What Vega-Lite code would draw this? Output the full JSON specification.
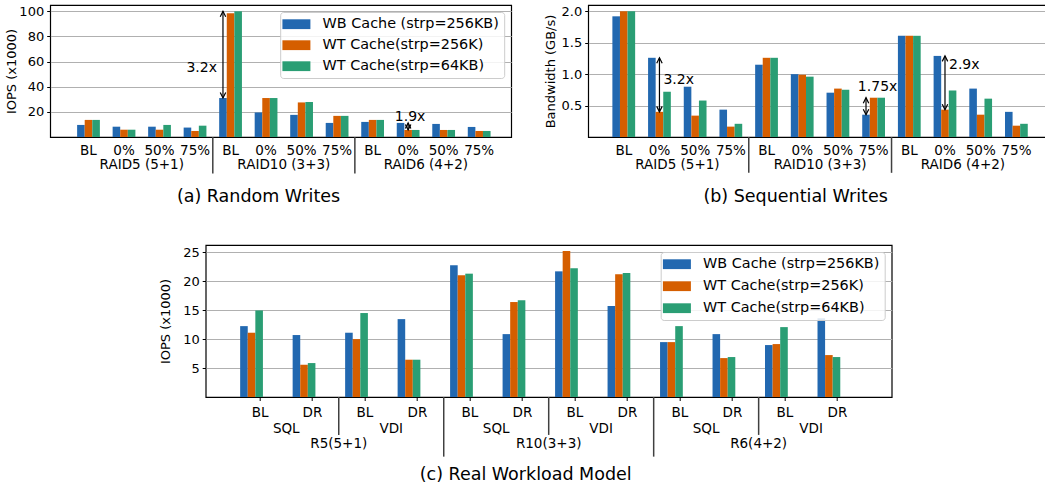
{
  "$schema": "https://vega.github.io/schema/vega-lite/v6.json",
  "background": "white",
  "padding": {"left": 5, "top": 4, "right": 2, "bottom": 2},
  "config": {
    "view": {"stroke": "black", "strokeWidth": 1.2},
    "font": "DejaVu Sans",
    "axis": {"labelFont": "DejaVu Sans", "labelFontSize": 13, "labelColor": "black", "titleFont": "DejaVu Sans", "titleFontSize": 13, "titleFontWeight": "normal", "titleColor": "black", "tickColor": "black", "domain": false, "labelOverlap": false},
    "axisY": {"grid": true, "gridColor": "#b0b0b0", "gridWidth": 1.2, "tickSize": 3.5, "tickWidth": 1, "labelPadding": 3},
    "axisX": {"grid": false, "ticks": false, "labelPadding": 6, "labelAngle": 0, "labelFontSize": 13.5},
    "legend": {"orient": "top-right", "offset": 7, "fillColor": "rgba(255,255,255,0.85)", "strokeColor": "#cccccc", "cornerRadius": 3, "padding": 5, "labelFont": "DejaVu Sans", "labelFontSize": 14.4, "labelColor": "black", "labelLimit": 400, "symbolType": "M-2,-0.7H2V0.7H-2Z", "symbolSize": 196, "symbolStrokeWidth": 0, "symbolOpacity": 1, "rowPadding": 6, "labelOffset": 19, "symbolOffset": 4},
    "title": {"font": "DejaVu Sans", "fontSize": 17.5, "fontWeight": "normal", "color": "black"}
  },
  "datasets": {
    "a": [
      {"k": "RAID5 (5+1)|BL", "s": "WB Cache (strp=256KB)", "v": 9.6},
      {"k": "RAID5 (5+1)|BL", "s": "WT Cache(strp=256K)", "v": 13.6},
      {"k": "RAID5 (5+1)|BL", "s": "WT Cache(strp=64KB)", "v": 13.6},
      {"k": "RAID5 (5+1)|0%", "s": "WB Cache (strp=256KB)", "v": 8.2},
      {"k": "RAID5 (5+1)|0%", "s": "WT Cache(strp=256K)", "v": 5.8},
      {"k": "RAID5 (5+1)|0%", "s": "WT Cache(strp=64KB)", "v": 5.8},
      {"k": "RAID5 (5+1)|50%", "s": "WB Cache (strp=256KB)", "v": 8.2},
      {"k": "RAID5 (5+1)|50%", "s": "WT Cache(strp=256K)", "v": 5.8},
      {"k": "RAID5 (5+1)|50%", "s": "WT Cache(strp=64KB)", "v": 9.6},
      {"k": "RAID5 (5+1)|75%", "s": "WB Cache (strp=256KB)", "v": 7.5},
      {"k": "RAID5 (5+1)|75%", "s": "WT Cache(strp=256K)", "v": 4.8},
      {"k": "RAID5 (5+1)|75%", "s": "WT Cache(strp=64KB)", "v": 9.0},
      {"k": "RAID10 (3+3)|BL", "s": "WB Cache (strp=256KB)", "v": 31},
      {"k": "RAID10 (3+3)|BL", "s": "WT Cache(strp=256K)", "v": 98.5},
      {"k": "RAID10 (3+3)|BL", "s": "WT Cache(strp=64KB)", "v": 100},
      {"k": "RAID10 (3+3)|0%", "s": "WB Cache (strp=256KB)", "v": 19.5},
      {"k": "RAID10 (3+3)|0%", "s": "WT Cache(strp=256K)", "v": 31},
      {"k": "RAID10 (3+3)|0%", "s": "WT Cache(strp=64KB)", "v": 31},
      {"k": "RAID10 (3+3)|50%", "s": "WB Cache (strp=256KB)", "v": 17.6},
      {"k": "RAID10 (3+3)|50%", "s": "WT Cache(strp=256K)", "v": 27.5},
      {"k": "RAID10 (3+3)|50%", "s": "WT Cache(strp=64KB)", "v": 27.9},
      {"k": "RAID10 (3+3)|75%", "s": "WB Cache (strp=256KB)", "v": 11.2},
      {"k": "RAID10 (3+3)|75%", "s": "WT Cache(strp=256K)", "v": 16.8},
      {"k": "RAID10 (3+3)|75%", "s": "WT Cache(strp=64KB)", "v": 16.8},
      {"k": "RAID6 (4+2)|BL", "s": "WB Cache (strp=256KB)", "v": 12},
      {"k": "RAID6 (4+2)|BL", "s": "WT Cache(strp=256K)", "v": 13.6},
      {"k": "RAID6 (4+2)|BL", "s": "WT Cache(strp=64KB)", "v": 13.6},
      {"k": "RAID6 (4+2)|0%", "s": "WB Cache (strp=256KB)", "v": 11.2},
      {"k": "RAID6 (4+2)|0%", "s": "WT Cache(strp=256K)", "v": 5.6},
      {"k": "RAID6 (4+2)|0%", "s": "WT Cache(strp=64KB)", "v": 5.6},
      {"k": "RAID6 (4+2)|50%", "s": "WB Cache (strp=256KB)", "v": 10.4},
      {"k": "RAID6 (4+2)|50%", "s": "WT Cache(strp=256K)", "v": 5.6},
      {"k": "RAID6 (4+2)|50%", "s": "WT Cache(strp=64KB)", "v": 5.6},
      {"k": "RAID6 (4+2)|75%", "s": "WB Cache (strp=256KB)", "v": 8.0},
      {"k": "RAID6 (4+2)|75%", "s": "WT Cache(strp=256K)", "v": 4.8},
      {"k": "RAID6 (4+2)|75%", "s": "WT Cache(strp=64KB)", "v": 4.8}
    ],
    "b": [
      {"k": "RAID5 (5+1)|BL", "s": "WB Cache (strp=256KB)", "v": 1.92},
      {"k": "RAID5 (5+1)|BL", "s": "WT Cache(strp=256K)", "v": 2.0},
      {"k": "RAID5 (5+1)|BL", "s": "WT Cache(strp=64KB)", "v": 2.0},
      {"k": "RAID5 (5+1)|0%", "s": "WB Cache (strp=256KB)", "v": 1.26},
      {"k": "RAID5 (5+1)|0%", "s": "WT Cache(strp=256K)", "v": 0.40},
      {"k": "RAID5 (5+1)|0%", "s": "WT Cache(strp=64KB)", "v": 0.72},
      {"k": "RAID5 (5+1)|50%", "s": "WB Cache (strp=256KB)", "v": 0.80},
      {"k": "RAID5 (5+1)|50%", "s": "WT Cache(strp=256K)", "v": 0.34},
      {"k": "RAID5 (5+1)|50%", "s": "WT Cache(strp=64KB)", "v": 0.58},
      {"k": "RAID5 (5+1)|75%", "s": "WB Cache (strp=256KB)", "v": 0.435},
      {"k": "RAID5 (5+1)|75%", "s": "WT Cache(strp=256K)", "v": 0.165},
      {"k": "RAID5 (5+1)|75%", "s": "WT Cache(strp=64KB)", "v": 0.21},
      {"k": "RAID10 (3+3)|BL", "s": "WB Cache (strp=256KB)", "v": 1.15},
      {"k": "RAID10 (3+3)|BL", "s": "WT Cache(strp=256K)", "v": 1.26},
      {"k": "RAID10 (3+3)|BL", "s": "WT Cache(strp=64KB)", "v": 1.26},
      {"k": "RAID10 (3+3)|0%", "s": "WB Cache (strp=256KB)", "v": 1.0},
      {"k": "RAID10 (3+3)|0%", "s": "WT Cache(strp=256K)", "v": 0.99},
      {"k": "RAID10 (3+3)|0%", "s": "WT Cache(strp=64KB)", "v": 0.96},
      {"k": "RAID10 (3+3)|50%", "s": "WB Cache (strp=256KB)", "v": 0.705},
      {"k": "RAID10 (3+3)|50%", "s": "WT Cache(strp=256K)", "v": 0.77},
      {"k": "RAID10 (3+3)|50%", "s": "WT Cache(strp=64KB)", "v": 0.75},
      {"k": "RAID10 (3+3)|75%", "s": "WB Cache (strp=256KB)", "v": 0.355},
      {"k": "RAID10 (3+3)|75%", "s": "WT Cache(strp=256K)", "v": 0.625},
      {"k": "RAID10 (3+3)|75%", "s": "WT Cache(strp=64KB)", "v": 0.625},
      {"k": "RAID6 (4+2)|BL", "s": "WB Cache (strp=256KB)", "v": 1.61},
      {"k": "RAID6 (4+2)|BL", "s": "WT Cache(strp=256K)", "v": 1.61},
      {"k": "RAID6 (4+2)|BL", "s": "WT Cache(strp=64KB)", "v": 1.61},
      {"k": "RAID6 (4+2)|0%", "s": "WB Cache (strp=256KB)", "v": 1.29},
      {"k": "RAID6 (4+2)|0%", "s": "WT Cache(strp=256K)", "v": 0.435},
      {"k": "RAID6 (4+2)|0%", "s": "WT Cache(strp=64KB)", "v": 0.74},
      {"k": "RAID6 (4+2)|50%", "s": "WB Cache (strp=256KB)", "v": 0.77},
      {"k": "RAID6 (4+2)|50%", "s": "WT Cache(strp=256K)", "v": 0.355},
      {"k": "RAID6 (4+2)|50%", "s": "WT Cache(strp=64KB)", "v": 0.61},
      {"k": "RAID6 (4+2)|75%", "s": "WB Cache (strp=256KB)", "v": 0.40},
      {"k": "RAID6 (4+2)|75%", "s": "WT Cache(strp=256K)", "v": 0.18},
      {"k": "RAID6 (4+2)|75%", "s": "WT Cache(strp=64KB)", "v": 0.21}
    ],
    "c": [
      {"k": "R5(5+1)|SQL|BL", "s": "WB Cache (strp=256KB)", "v": 12.24},
      {"k": "R5(5+1)|SQL|BL", "s": "WT Cache(strp=256K)", "v": 11.1},
      {"k": "R5(5+1)|SQL|BL", "s": "WT Cache(strp=64KB)", "v": 14.95},
      {"k": "R5(5+1)|SQL|DR", "s": "WB Cache (strp=256KB)", "v": 10.7},
      {"k": "R5(5+1)|SQL|DR", "s": "WT Cache(strp=256K)", "v": 5.57},
      {"k": "R5(5+1)|SQL|DR", "s": "WT Cache(strp=64KB)", "v": 5.86},
      {"k": "R5(5+1)|VDI|BL", "s": "WB Cache (strp=256KB)", "v": 11.1},
      {"k": "R5(5+1)|VDI|BL", "s": "WT Cache(strp=256K)", "v": 10.0},
      {"k": "R5(5+1)|VDI|BL", "s": "WT Cache(strp=64KB)", "v": 14.5},
      {"k": "R5(5+1)|VDI|DR", "s": "WB Cache (strp=256KB)", "v": 13.45},
      {"k": "R5(5+1)|VDI|DR", "s": "WT Cache(strp=256K)", "v": 6.44},
      {"k": "R5(5+1)|VDI|DR", "s": "WT Cache(strp=64KB)", "v": 6.44},
      {"k": "R10(3+3)|SQL|BL", "s": "WB Cache (strp=256KB)", "v": 22.76},
      {"k": "R10(3+3)|SQL|BL", "s": "WT Cache(strp=256K)", "v": 21.03},
      {"k": "R10(3+3)|SQL|BL", "s": "WT Cache(strp=64KB)", "v": 21.3},
      {"k": "R10(3+3)|SQL|DR", "s": "WB Cache (strp=256KB)", "v": 10.86},
      {"k": "R10(3+3)|SQL|DR", "s": "WT Cache(strp=256K)", "v": 16.4},
      {"k": "R10(3+3)|SQL|DR", "s": "WT Cache(strp=64KB)", "v": 16.7},
      {"k": "R10(3+3)|VDI|BL", "s": "WB Cache (strp=256KB)", "v": 21.7},
      {"k": "R10(3+3)|VDI|BL", "s": "WT Cache(strp=256K)", "v": 25.2},
      {"k": "R10(3+3)|VDI|BL", "s": "WT Cache(strp=64KB)", "v": 22.24},
      {"k": "R10(3+3)|VDI|DR", "s": "WB Cache (strp=256KB)", "v": 15.7},
      {"k": "R10(3+3)|VDI|DR", "s": "WT Cache(strp=256K)", "v": 21.2},
      {"k": "R10(3+3)|VDI|DR", "s": "WT Cache(strp=64KB)", "v": 21.4},
      {"k": "R6(4+2)|SQL|BL", "s": "WB Cache (strp=256KB)", "v": 9.48},
      {"k": "R6(4+2)|SQL|BL", "s": "WT Cache(strp=256K)", "v": 9.48},
      {"k": "R6(4+2)|SQL|BL", "s": "WT Cache(strp=64KB)", "v": 12.24},
      {"k": "R6(4+2)|SQL|DR", "s": "WB Cache (strp=256KB)", "v": 10.86},
      {"k": "R6(4+2)|SQL|DR", "s": "WT Cache(strp=256K)", "v": 6.72},
      {"k": "R6(4+2)|SQL|DR", "s": "WT Cache(strp=64KB)", "v": 6.9},
      {"k": "R6(4+2)|VDI|BL", "s": "WB Cache (strp=256KB)", "v": 8.97},
      {"k": "R6(4+2)|VDI|BL", "s": "WT Cache(strp=256K)", "v": 9.14},
      {"k": "R6(4+2)|VDI|BL", "s": "WT Cache(strp=64KB)", "v": 12.07},
      {"k": "R6(4+2)|VDI|DR", "s": "WB Cache (strp=256KB)", "v": 13.6},
      {"k": "R6(4+2)|VDI|DR", "s": "WT Cache(strp=256K)", "v": 7.24},
      {"k": "R6(4+2)|VDI|DR", "s": "WT Cache(strp=64KB)", "v": 6.9}
    ]
  },
  "vconcat": [
    {
      "hconcat": [
        {
          "width": 461, "height": 132,
          "title": {"text": "(a) Random Writes", "orient": "bottom", "frame": "bounds", "anchor": "middle", "offset": 14},
          "layer": [
            {
              "data": {"name": "a"},
              "mark": {"type": "bar"},
              "encoding": {
                "x": {"field": "k", "type": "nominal", "scale": {"domain": ["RAID5 (5+1)|BL", "RAID5 (5+1)|0%", "RAID5 (5+1)|50%", "RAID5 (5+1)|75%", "RAID10 (3+3)|BL", "RAID10 (3+3)|0%", "RAID10 (3+3)|50%", "RAID10 (3+3)|75%", "RAID6 (4+2)|BL", "RAID6 (4+2)|0%", "RAID6 (4+2)|50%", "RAID6 (4+2)|75%"], "paddingInner": 0, "paddingOuter": 0.49, "align": 0.59}, "axis": {"title": null, "labelExpr": "split(datum.value, '|')[1]"}},
                "xOffset": {"field": "s", "type": "nominal", "scale": {"domain": ["WB Cache (strp=256KB)", "WT Cache(strp=256K)", "WT Cache(strp=64KB)"], "paddingInner": 0, "paddingOuter": 0.84}},
                "y": {"field": "v", "type": "quantitative", "scale": {"domain": [0, 105], "nice": false}, "axis": {"values": [20, 40, 60, 80, 100], "labelOverlap": false, "tickCount": 5, "title": "IOPS (x1000)", "titlePadding": 0}},
                "color": {"field": "s", "type": "nominal", "scale": {"domain": ["WB Cache (strp=256KB)", "WT Cache(strp=256K)", "WT Cache(strp=64KB)"], "range": ["#2268b0", "#d55e00", "#2a9e74"]}, "legend": {"title": null}}
              }
            },
            {
              "data": {"values": [{"k": "RAID5 (5+1)|50%", "g": "RAID5 (5+1)"}, {"k": "RAID10 (3+3)|50%", "g": "RAID10 (3+3)"}, {"k": "RAID6 (4+2)|50%", "g": "RAID6 (4+2)"}]},
              "mark": {"type": "text", "baseline": "middle", "align": "center", "fontSize": 13.5, "font": "DejaVu Sans", "color": "black"},
              "encoding": {"x": {"field": "k", "type": "nominal", "bandPosition": 0, "axis": {"title": null}}, "y": {"datum": -22.4}, "text": {"field": "g"}}
            },
            {
              "data": {"values": [{"k": "RAID10 (3+3)|BL"}, {"k": "RAID6 (4+2)|BL"}]},
              "mark": {"type": "rule", "color": "#404040", "strokeWidth": 1.5},
              "encoding": {"x": {"field": "k", "type": "nominal", "bandPosition": 0, "axis": {"title": null}}, "y": {"datum": 0}, "y2": {"datum": -29}}
            },
            {
              "data": {"values": [{"k": "RAID10 (3+3)|BL", "s": "WB Cache (strp=256KB)", "hi": 100, "lo": 31}, {"k": "RAID6 (4+2)|0%", "s": "WT Cache(strp=256K)", "hi": 11.2, "lo": 5.6}]},
              "encoding": {"x": {"field": "k", "type": "nominal", "axis": {"title": null}}, "xOffset": {"field": "s", "type": "nominal"}},
              "layer": [
                {"mark": {"type": "rule", "color": "black", "strokeWidth": 1.2}, "encoding": {"y": {"field": "hi", "type": "quantitative"}, "y2": {"field": "lo"}}},
                {"mark": {"type": "point", "shape": "M-1,2L0,0L1,2", "size": 30, "filled": false, "stroke": "black", "strokeWidth": 1.2, "opacity": 1}, "encoding": {"y": {"field": "hi", "type": "quantitative"}}},
                {"mark": {"type": "point", "shape": "M-1,-2L0,0L1,-2", "size": 30, "filled": false, "stroke": "black", "strokeWidth": 1.2, "opacity": 1}, "encoding": {"y": {"field": "lo", "type": "quantitative"}}}
              ]
            },
            {
              "data": {"values": [{"k": "RAID10 (3+3)|BL", "s": "WB Cache (strp=256KB)", "y": 55, "t": "3.2x"}]},
              "mark": {"type": "text", "align": "right", "baseline": "middle", "dx": -6, "fontSize": 14, "font": "DejaVu Sans", "color": "black"},
              "encoding": {"x": {"field": "k", "type": "nominal", "axis": {"title": null}}, "xOffset": {"field": "s", "type": "nominal"}, "y": {"field": "y", "type": "quantitative"}, "text": {"field": "t"}}
            },
            {
              "data": {"values": [{"k": "RAID6 (4+2)|0%", "s": "WT Cache(strp=256K)", "y": 16, "t": "1.9x"}]},
              "mark": {"type": "text", "align": "center", "baseline": "middle", "dx": 2, "fontSize": 14, "font": "DejaVu Sans", "color": "black"},
              "encoding": {"x": {"field": "k", "type": "nominal", "axis": {"title": null}}, "xOffset": {"field": "s", "type": "nominal"}, "y": {"field": "y", "type": "quantitative"}, "text": {"field": "t"}}
            }
          ]
        },
        {
          "width": 459, "height": 132,
          "title": {"text": "(b) Sequential Writes", "orient": "bottom", "frame": "bounds", "anchor": "middle", "offset": 14},
          "layer": [
            {
              "data": {"name": "b"},
              "mark": {"type": "bar"},
              "encoding": {
                "x": {"field": "k", "type": "nominal", "scale": {"domain": ["RAID5 (5+1)|BL", "RAID5 (5+1)|0%", "RAID5 (5+1)|50%", "RAID5 (5+1)|75%", "RAID10 (3+3)|BL", "RAID10 (3+3)|0%", "RAID10 (3+3)|50%", "RAID10 (3+3)|75%", "RAID6 (4+2)|BL", "RAID6 (4+2)|0%", "RAID6 (4+2)|50%", "RAID6 (4+2)|75%"], "paddingInner": 0, "paddingOuter": 0.43, "align": 0.58}, "axis": {"title": null, "labelExpr": "split(datum.value, '|')[1]"}},
                "xOffset": {"field": "s", "type": "nominal", "scale": {"domain": ["WB Cache (strp=256KB)", "WT Cache(strp=256K)", "WT Cache(strp=64KB)"], "paddingInner": 0, "paddingOuter": 0.84}},
                "y": {"field": "v", "type": "quantitative", "scale": {"domain": [0, 2.1], "nice": false}, "axis": {"values": [0.5, 1.0, 1.5, 2.0], "labelOverlap": false, "tickCount": 4, "format": ".1f", "title": "Bandwidth (GB/s)", "titlePadding": 4}},
                "color": {"field": "s", "type": "nominal", "scale": {"domain": ["WB Cache (strp=256KB)", "WT Cache(strp=256K)", "WT Cache(strp=64KB)"], "range": ["#2268b0", "#d55e00", "#2a9e74"]}, "legend": null}
              }
            },
            {
              "data": {"values": [{"k": "RAID5 (5+1)|50%", "g": "RAID5 (5+1)"}, {"k": "RAID10 (3+3)|50%", "g": "RAID10 (3+3)"}, {"k": "RAID6 (4+2)|50%", "g": "RAID6 (4+2)"}]},
              "mark": {"type": "text", "baseline": "middle", "align": "center", "fontSize": 13.5, "font": "DejaVu Sans", "color": "black"},
              "encoding": {"x": {"field": "k", "type": "nominal", "bandPosition": 0, "axis": {"title": null}}, "y": {"datum": -0.445}, "text": {"field": "g"}}
            },
            {
              "data": {"values": [{"k": "RAID10 (3+3)|BL"}, {"k": "RAID6 (4+2)|BL"}]},
              "mark": {"type": "rule", "color": "#404040", "strokeWidth": 1.5},
              "encoding": {"x": {"field": "k", "type": "nominal", "bandPosition": 0, "axis": {"title": null}}, "y": {"datum": 0}, "y2": {"datum": -0.57}}
            },
            {
              "data": {"values": [{"k": "RAID5 (5+1)|0%", "s": "WT Cache(strp=256K)", "hi": 1.26, "lo": 0.40}, {"k": "RAID10 (3+3)|75%", "s": "WB Cache (strp=256KB)", "hi": 0.625, "lo": 0.355}, {"k": "RAID6 (4+2)|0%", "s": "WT Cache(strp=256K)", "hi": 1.29, "lo": 0.435}]},
              "encoding": {"x": {"field": "k", "type": "nominal", "axis": {"title": null}}, "xOffset": {"field": "s", "type": "nominal"}},
              "layer": [
                {"mark": {"type": "rule", "color": "black", "strokeWidth": 1.2}, "encoding": {"y": {"field": "hi", "type": "quantitative"}, "y2": {"field": "lo"}}},
                {"mark": {"type": "point", "shape": "M-1,2L0,0L1,2", "size": 30, "filled": false, "stroke": "black", "strokeWidth": 1.2, "opacity": 1}, "encoding": {"y": {"field": "hi", "type": "quantitative"}}},
                {"mark": {"type": "point", "shape": "M-1,-2L0,0L1,-2", "size": 30, "filled": false, "stroke": "black", "strokeWidth": 1.2, "opacity": 1}, "encoding": {"y": {"field": "lo", "type": "quantitative"}}}
              ]
            },
            {
              "data": {"values": [{"k": "RAID5 (5+1)|0%", "s": "WT Cache(strp=256K)", "y": 0.91, "t": "3.2x"}, {"k": "RAID6 (4+2)|0%", "s": "WT Cache(strp=256K)", "y": 1.15, "t": "2.9x"}]},
              "mark": {"type": "text", "align": "left", "baseline": "middle", "dx": 4, "fontSize": 14, "font": "DejaVu Sans", "color": "black"},
              "encoding": {"x": {"field": "k", "type": "nominal", "axis": {"title": null}}, "xOffset": {"field": "s", "type": "nominal"}, "y": {"field": "y", "type": "quantitative"}, "text": {"field": "t"}}
            },
            {
              "data": {"values": [{"k": "RAID10 (3+3)|75%", "s": "WT Cache(strp=256K)", "y": 0.79, "t": "1.75x"}]},
              "mark": {"type": "text", "align": "center", "baseline": "middle", "dx": 4, "fontSize": 14, "font": "DejaVu Sans", "color": "black"},
              "encoding": {"x": {"field": "k", "type": "nominal", "axis": {"title": null}}, "xOffset": {"field": "s", "type": "nominal"}, "y": {"field": "y", "type": "quantitative"}, "text": {"field": "t"}}
            }
          ]
        }
      ],
      "spacing": 31,
      "resolve": {"scale": {"color": "independent"}, "legend": {"color": "independent"}}
    },
    {
      "width": 686, "height": 152,
      "title": {"text": "(c) Real Workload Model", "orient": "bottom", "frame": "bounds", "anchor": "middle", "offset": 9},
      "layer": [
        {
          "data": {"name": "c"},
          "mark": {"type": "bar"},
          "encoding": {
            "x": {"field": "k", "type": "nominal", "scale": {"domain": ["R5(5+1)|SQL|BL", "R5(5+1)|SQL|DR", "R5(5+1)|VDI|BL", "R5(5+1)|VDI|DR", "R10(3+3)|SQL|BL", "R10(3+3)|SQL|DR", "R10(3+3)|VDI|BL", "R10(3+3)|VDI|DR", "R6(4+2)|SQL|BL", "R6(4+2)|SQL|DR", "R6(4+2)|VDI|BL", "R6(4+2)|VDI|DR"], "paddingInner": 0, "paddingOuter": 0.535, "align": 0.5}, "axis": {"title": null, "labelExpr": "split(datum.value, '|')[2]", "ticks": true, "tickSize": 3.5, "labelPadding": 5}},
            "xOffset": {"field": "s", "type": "nominal", "scale": {"domain": ["WB Cache (strp=256KB)", "WT Cache(strp=256K)", "WT Cache(strp=64KB)"], "paddingInner": 0, "paddingOuter": 0.94}},
            "y": {"field": "v", "type": "quantitative", "scale": {"domain": [0, 26.25], "nice": false}, "axis": {"values": [5, 10, 15, 20, 25], "labelOverlap": false, "tickCount": 5, "title": "IOPS (x1000)", "titlePadding": 10}},
            "color": {"field": "s", "type": "nominal", "scale": {"domain": ["WB Cache (strp=256KB)", "WT Cache(strp=256K)", "WT Cache(strp=64KB)"], "range": ["#2268b0", "#d55e00", "#2a9e74"]}, "legend": {"title": null, "rowPadding": 7}}
          }
        },
        {
          "data": {"values": [{"k": "R5(5+1)|SQL|DR", "g": "SQL"}, {"k": "R5(5+1)|VDI|DR", "g": "VDI"}, {"k": "R10(3+3)|SQL|DR", "g": "SQL"}, {"k": "R10(3+3)|VDI|DR", "g": "VDI"}, {"k": "R6(4+2)|SQL|DR", "g": "SQL"}, {"k": "R6(4+2)|VDI|DR", "g": "VDI"}]},
          "mark": {"type": "text", "baseline": "middle", "align": "center", "fontSize": 13.5, "font": "DejaVu Sans", "color": "black"},
          "encoding": {"x": {"field": "k", "type": "nominal", "bandPosition": 0, "axis": {"title": null}}, "y": {"datum": -5.45}, "text": {"field": "g"}}
        },
        {
          "data": {"values": [{"k": "R5(5+1)|VDI|BL", "g": "R5(5+1)"}, {"k": "R10(3+3)|VDI|BL", "g": "R10(3+3)"}, {"k": "R6(4+2)|VDI|BL", "g": "R6(4+2)"}]},
          "mark": {"type": "text", "baseline": "middle", "align": "center", "fontSize": 13.5, "font": "DejaVu Sans", "color": "black"},
          "encoding": {"x": {"field": "k", "type": "nominal", "bandPosition": 0, "axis": {"title": null}}, "y": {"datum": -8.1}, "text": {"field": "g"}}
        },
        {
          "data": {"values": [{"k": "R5(5+1)|VDI|BL"}, {"k": "R10(3+3)|VDI|BL"}, {"k": "R6(4+2)|VDI|BL"}]},
          "mark": {"type": "rule", "color": "#404040", "strokeWidth": 1.5},
          "encoding": {"x": {"field": "k", "type": "nominal", "bandPosition": 0, "axis": {"title": null}}, "y": {"datum": 0}, "y2": {"datum": -6.55}}
        },
        {
          "data": {"values": [{"k": "R10(3+3)|SQL|BL"}, {"k": "R6(4+2)|SQL|BL"}]},
          "mark": {"type": "rule", "color": "#404040", "strokeWidth": 1.5},
          "encoding": {"x": {"field": "k", "type": "nominal", "bandPosition": 0, "axis": {"title": null}}, "y": {"datum": 0}, "y2": {"datum": -10.3}}
        }
      ]
    }
  ],
  "spacing": 37,
  "center": true,
  "resolve": {"scale": {"color": "independent"}, "legend": {"color": "independent"}}
}
